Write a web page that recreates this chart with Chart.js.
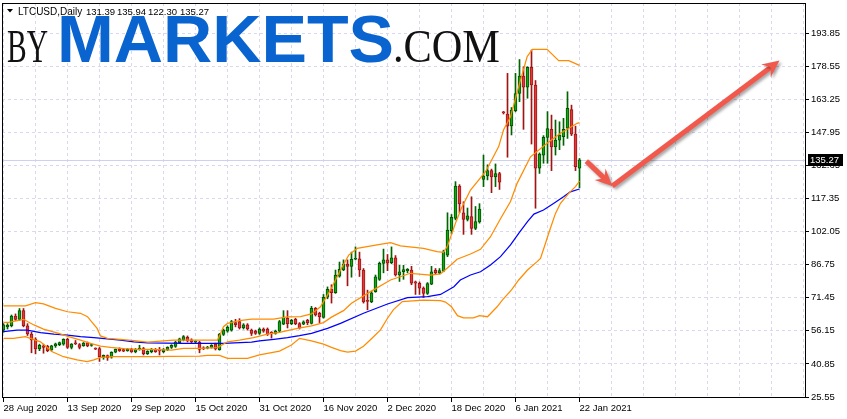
<!DOCTYPE html>
<html><head><meta charset="utf-8">
<script src="https://cdn.jsdelivr.net/npm/chart.js@4/dist/chart.umd.min.js"></script>
<style>html,body{margin:0;padding:0;background:#fff;overflow:hidden}</style>
</head><body>
<canvas id="c" width="847" height="419"></canvas>
<script>
// ---------- DATA ----------
const symbolName = 'LTCUSD,Daily';
const xTickLabels = ['28 Aug 2020','13 Sep 2020','29 Sep 2020','15 Oct 2020','31 Oct 2020','16 Nov 2020','2 Dec 2020','18 Dec 2020','6 Jan 2021','22 Jan 2021'];
const yTicks = [25.55,40.85,56.15,71.45,86.75,102.05,117.35,132.65,147.95,163.25,178.55,193.85];
const opens  = [56.5,58,58.5,63,61.5,65.5,58.5,54.7,52.3,47.8,49.2,49,47.3,49.2,49.8,50,52.2,48.5,50.6,49.8,49.3,50.6,49.4,47.9,48,44,44.7,44,46.3,47.6,47.5,47,47.6,46.4,47.5,48,45.6,46.5,47.6,47.2,46.5,47.5,48.5,49,50.7,52,53.2,52,50.9,50.8,48.3,48.2,48.5,50,47.5,54.5,56,56.5,60,60.5,57.5,59,56.5,56,55,57,57,55.2,55,56,59.2,62,59.5,61.5,59.5,59.3,61,59.6,66.6,64.3,62.4,71.7,75.4,73.8,81.5,84.3,87,86,89.3,89.5,84.3,70.3,69.6,74.3,80,87.4,89,87.7,90,82,83.5,84,84.3,78.8,78.2,76,73.5,77.8,84.2,83,83.8,91.2,102.5,108.2,123.2,110.8,107.7,109,103.6,106.6,126.2,127.8,130.3,127.4,128.9,157.1,156.5,151,158,166,174,168.9,178.1,169.9,131.4,137.5,145.7,149.4,141.3,144.4,146,149.9,158.6,147.2,131.39];
const highs  = [59.5,59.5,63.5,64,66.5,66.5,59.5,55.5,53,50,50,49.5,49.5,50.5,51,52.5,52.8,50.3,51.7,50.3,50.8,51,50,48.3,48.5,45,45,46.5,47.8,48.3,48,48,48.1,48,49.5,48.5,47,48,48,48.5,48,48.8,49.8,51.3,52.8,54,53.8,52.5,51.6,51.3,48.8,49,49.8,50.5,55,57,58.5,61,61.5,61.8,59.5,59.5,57,56.5,57.5,57.5,57.5,55.8,56.5,61,65.5,65.5,61.5,62,60,60.8,61.5,67.5,67,64.8,73,76.5,77.5,84.3,88,89,89,92.6,95,92.6,85,75,74.5,82,88,94,91.5,95,91,86.5,86.5,85,86,79.2,78.8,76.5,78.5,86,85,85,93.5,110.8,110,125.2,123.8,115.9,113,118.2,113.7,115,137.5,133,131,133.4,129.5,157.7,175.3,159.5,175.3,181.7,178.4,178.4,186.1,172,138.5,146.5,157.6,156,153.7,152.9,154.5,166.8,160.6,150.9,135.94];
const lows   = [55.5,57,58,61,61,58,54,46,45.5,47,45.8,46.5,46.8,48.5,49.3,49.5,48,47.8,49.8,47.8,49,48.8,49,47.5,42,43,42.5,43.5,46,46.6,46.5,46.7,46.2,46,47.2,45,45.2,46,46.2,45,46,47,48,48.5,50.3,51.5,51,50.5,50.5,46,47.5,47.8,48.2,47.3,47.2,54,55.5,56,58,57,57,56.5,54,54.5,54.5,55.5,54,52.8,54.6,55.5,59,57.5,59,59,57,59,59,59.3,63,60,62,71,69,73.5,81,84,77,81,89,81.3,69,65.9,69.2,74,79.5,83,84,87.2,81.5,79,80,83,77.5,73,73,71.6,73,77.5,82.5,82.5,83.5,90.5,101,107.5,110.8,100.8,107,100.8,103,106,122.9,126,120.1,122.9,121.6,156.5,136.5,146.8,157.5,162.2,149.4,163.8,142.6,112.9,129,133.7,133.7,130.3,137.5,140,142,145.2,146.5,130.3,122.30];
const closes = [59,58.8,63,61.5,65.5,58.5,54.7,52,47.8,49.5,48.5,47,49.2,50.2,50.7,52.2,48.5,50,50.2,48.5,50.5,49.2,49.8,47.7,44.2,44.8,43.8,46.2,47.6,47,46.8,47.6,46.4,47.5,48.1,45.6,46.7,47.7,46.5,46.9,47.5,48.5,49.5,51,52.5,53.5,51.5,51,51.2,47.6,47.8,48.7,49.5,47.8,54.5,56.5,57.8,60.5,59,57.5,59,57,55,55,57,56,54.5,55,56,60.5,62.5,59.5,61,59.5,57.5,60.3,60,66.6,63.5,62.7,71.7,75.4,73.8,82,84.6,87.1,86,89.3,89.6,84.3,69.6,69.8,73.8,81.2,87.4,89,87.5,90,82,83.5,84.5,84.6,78.2,78.2,75.9,73.5,78,83.5,83,84,92.7,102.8,108.7,123.2,114.9,107.7,109.4,103.6,106.7,112.5,127.8,130.3,127.4,128.9,125,157,150.9,158.3,166,174,168.9,178.1,169.9,131.4,138,145.7,149.8,141.3,144.4,146.7,149.4,159.1,147.2,132.1,135.27];
// indicator lines: [bar index, value] pairs
const bbUpperPts = [[0,67.7],[5.5,67.7],[8,69.2],[10,68.6],[13,66.6],[16,65],[19.25,64.3],[21,62.7],[22,60.4],[23.4,57.3],[24.25,53.8],[26,52.7],[29.25,52.2],[32.6,51.6],[36,50.9],[42.5,51.9],[53.5,51.9],[54.3,55],[55,58.1],[56,59.6],[59,60.9],[62,61.6],[67.5,61.6],[71,62.6],[74.25,62.7],[77,64],[79.25,67.3],[81.75,75.1],[84.25,84.3],[86.3,91.2],[88.4,94.3],[93.4,95.9],[96.75,97],[99.25,95.5],[105,94.3],[108.4,92.8],[110,92.5],[111,95.4],[111.75,99.4],[113,106],[114.5,113],[116.75,121.3],[120.5,129.8],[123.8,141.4],[125,149.1],[126.75,155.2],[129.25,172.2],[130.9,183],[132.2,186.4],[135.9,186.4],[138.8,181.2],[141.3,181.2],[144,179]];
const bbMiddlePts = [[0,60.1],[1.3,60.1],[5,61.5],[7.6,58.9],[10,57],[13.8,55],[16.3,53.5],[19.25,51.9],[21.75,50.4],[24.25,49.1],[26.75,48.5],[30,47.9],[33.4,47.6],[36.75,47.6],[42,47.3],[45,48.1],[49,48.1],[53.5,48.4],[56,51.1],[59,51.9],[62.5,53],[66,54.6],[69,55.5],[73.5,57.3],[77,58.5],[80,60],[82,62.5],[85,65.5],[87,68.9],[91.75,74.3],[96.75,79.7],[101.75,82.8],[106.75,82],[109.25,82.5],[111.75,86.5],[113.4,89.3],[116.75,91.7],[119.25,93.9],[121.75,99.7],[124.25,108],[126.75,116],[128.4,124.4],[131.75,136.7],[135.9,143],[139.25,147.6],[143.4,152.2],[144,152.5]];
const bbLowerPts = [[0,52.7],[2.5,52.7],[5.5,53.5],[9.25,51.1],[12.2,46.5],[15,44.2],[18.4,42.7],[20.9,41.9],[22.6,42.7],[24.25,43.9],[27.6,44.2],[36.75,44.2],[42,44.4],[49,44.5],[51,44.8],[54,44.8],[56,43.4],[61,43.4],[64,45],[69,46.8],[72,49.6],[74,52.7],[77,51.5],[80,50],[82,48.5],[84.25,47],[86,46.3],[88,46.8],[90,49],[92,52.5],[94.25,56.6],[96,62],[97.5,66],[99.7,69.7],[105,70.4],[109.25,70.1],[110.5,69.5],[112,67.3],[113.5,63.2],[115,62.2],[117.5,62.2],[119,63.2],[121,62.7],[123.4,67.3],[124.7,70.4],[127,75.1],[128.8,79.7],[131,84.3],[133.4,88.2],[134.25,89.7],[135.5,96.7],[136.3,101.3],[138,110.5],[139.25,115.2],[141.3,119.8],[143,122.9],[144,125.5]];
const maPts = [[0,55.8],[3.4,56.5],[5.9,56.5],[9.25,55.3],[12.6,54.6],[16,54.2],[19.25,53.5],[22.6,53],[26,52.4],[29.25,51.9],[32.6,51.1],[36,50.6],[45,50.4],[55,50.4],[62,50.9],[64,51.5],[67.6,52.2],[71,53],[74,53.9],[77,55],[81,57.3],[84.25,59.6],[90,64.3],[96,68.6],[101,71.5],[106,72],[109.25,73],[112.6,76.6],[114.2,79.7],[116.75,82],[119.25,83.5],[121.75,86.6],[124.25,90.5],[126.75,95.9],[128.8,101.3],[131,106.7],[132.6,110.2],[135,112.1],[137.6,115.2],[140,118.2],[141.7,120.5],[144,121.8]];
// forecast arrow drawn on the chart: [bar index, price] points
const arrowPts = [[145.7,134.7],[152.2,123.2],[194,181.2]];

// ---------- LAYOUT / STYLE ----------
const LABEL_EVERY = 16, GRID_EVERY = 8, TOTAL_SLOTS = 201;
const FONT = '"Liberation Sans", Arial, sans-serif';
const GRID = '#d8d8f0';
const up = (i) => closes[i] >= opens[i];
const wickColors = opens.map((o,i)=> up(i) ? '#006400' : '#a01414');
const bodyFill   = opens.map((o,i)=> up(i) ? '#12a812' : '#e03a3a');
const bodyBorder = opens.map((o,i)=> up(i) ? '#005000' : '#a01414');
const toXY = pts => pts.map(p => ({x:p[0], y:p[1]}));

const xTickVals = [];
for (let v = 0; v < TOTAL_SLOTS; v += GRID_EVERY) xTickVals.push(v);

function lineDS(pts, color){
  return {type:'line', data: toXY(pts), borderColor: color, borderWidth: 1.25, pointRadius: 0, fill: false, tension: 0, order: 0};
}

function fitText(ctx, text, x, baseline, font, color, targetW){
  ctx.save(); ctx.font = font; const w = ctx.measureText(text).width;
  ctx.translate(x, baseline); ctx.scale(targetW / w, 1); ctx.fillStyle = color; ctx.textBaseline = 'alphabetic'; ctx.textAlign = 'left';
  ctx.fillText(text, 0, 0); ctx.restore();
}

function drawArrowSeg(ctx, x0, y0, x1, y1){
  const a = Math.atan2(y1 - y0, x1 - x0), c = Math.cos(a), s = Math.sin(a);
  const L = 17, W = 8, N = 11;
  ctx.beginPath(); ctx.moveTo(x0, y0); ctx.lineTo(x1 - c*N, y1 - s*N); ctx.stroke();
  ctx.beginPath(); ctx.moveTo(x1, y1);
  ctx.lineTo(x1 - c*L - s*W, y1 - s*L + c*W);
  ctx.lineTo(x1 - c*N, y1 - s*N);
  ctx.lineTo(x1 - c*L + s*W, y1 - s*L - c*W);
  ctx.closePath(); ctx.fill();
}

const mt4Plugin = {
  id: 'mt4',
  beforeDatasetsDraw(chart){
    const {ctx, chartArea: a, scales: {x, y}} = chart;
    // watermark logo
    fitText(ctx, 'BY', 7, 62, '47px "Liberation Serif", serif', '#111', 41);
    fitText(ctx, 'MARKETS', 57, 62, 'bold 67px ' + FONT, '#0a64d0', 337);
    fitText(ctx, '.COM', 393, 62, '47px "Liberation Serif", serif', '#111', 107);
    // bid line at the last close
    const py = Math.round(y.getPixelForValue(closes[closes.length-1])) + 0.5;
    ctx.save(); ctx.strokeStyle = '#cfcff0'; ctx.lineWidth = 1;
    ctx.beginPath(); ctx.moveTo(a.left, py); ctx.lineTo(a.right, py); ctx.stroke(); ctx.restore();
  },
  afterDatasetsDraw(chart){
    const {ctx, scales: {x, y}} = chart;
    const p = arrowPts.map(q => [x.getPixelForValue(q[0]), y.getPixelForValue(q[1])]);
    ctx.save();
    ctx.strokeStyle = '#f2594d'; ctx.fillStyle = '#f2594d'; ctx.lineWidth = 5; ctx.lineCap = 'butt';
    ctx.shadowColor = 'rgba(0,0,0,0.35)'; ctx.shadowBlur = 3; ctx.shadowOffsetX = 2; ctx.shadowOffsetY = 2;
    for (let i = 0; i < p.length - 1; i++) drawArrowSeg(ctx, p[i][0], p[i][1], p[i+1][0], p[i+1][1]);
    ctx.restore();
  },
  afterDraw(chart){
    const {ctx, chartArea: a, scales: {y}} = chart;
    ctx.save();
    // plot frame
    ctx.strokeStyle = '#000'; ctx.lineWidth = 1;
    ctx.strokeRect(a.left + 0.5, a.top + 0.5, a.right - a.left - 1, a.bottom - a.top - 1);
    // header
    ctx.fillStyle = '#000';
    ctx.beginPath(); ctx.moveTo(7, 9); ctx.lineTo(13, 9); ctx.lineTo(10, 12.5); ctx.closePath(); ctx.fill();
    ctx.textBaseline = 'alphabetic'; ctx.textAlign = 'left';
    const n = closes.length - 1;
    ctx.font = '10px ' + FONT;
    ctx.fillText(symbolName, 18, 14.5);
    ctx.font = '9.5px ' + FONT;
    const hv = [opens[n], highs[n], lows[n], closes[n]];
    const hx = [86, 117, 148, 180];
    hv.forEach((v, k) => ctx.fillText(v.toFixed(2), hx[k], 14.5));
    // last price label on the price axis
    const py = Math.round(y.getPixelForValue(closes[n]));
    ctx.fillStyle = '#000'; ctx.fillRect(808, py - 6, 35, 12);
    ctx.fillStyle = '#fff'; ctx.font = '9.5px ' + FONT; ctx.textBaseline = 'middle';
    ctx.fillText(closes[n].toFixed(2), 810, py);
    ctx.restore();
  }
};

new Chart(document.getElementById('c'), {
  type: 'bar',
  data: {
    datasets: [
      lineDS(bbUpperPts, '#ff8c00'),
      lineDS(bbMiddlePts, '#ff8c00'),
      lineDS(bbLowerPts, '#ff8c00'),
      lineDS(maPts, '#0000ff'),
      { type:'bar', data: lows.map((l,i)=>({x:i, y:[l, highs[i]]})), backgroundColor: wickColors, borderWidth: 0, barThickness: 1, grouped: false, order: 2 },
      { type:'bar', data: opens.map((o,i)=>({x:i, y:[o, closes[i]]})), backgroundColor: bodyFill, borderColor: bodyBorder, borderWidth: 1, borderSkipped: false, barThickness: 3, minBarLength: 1, grouped: false, order: 1 }
    ]
  },
  options: {
    responsive: false, devicePixelRatio: 1, animation: false, events: [],
    layout: { padding: { left: 2, top: 3, right: 0, bottom: 0 } },
    plugins: { legend: { display: false }, tooltip: { enabled: false } },
    scales: {
      x: {
        type: 'linear', offset: false, min: -0.375, max: TOTAL_SLOTS - 0.375,
        afterBuildTicks: ax => { ax.ticks = xTickVals.map(v => ({value: v})); },
        afterFit: ax => { ax.height = 21; ax.paddingLeft = 0; ax.paddingRight = 0; },
        grid: { offset: false, color: GRID, lineWidth: 1, drawTicks: true, tickLength: 4,
          tickColor: c => (c.tick && c.tick.value % LABEL_EVERY === 0 && c.tick.value / LABEL_EVERY < xTickLabels.length) ? '#000' : 'rgba(0,0,0,0)' },
        border: { display: false, dash: [3,3] },
        ticks: { autoSkip: false, maxRotation: 0, minRotation: 0, align: 'start', padding: 1, color: '#000', font: { family: FONT, size: 9.5 },
          callback: v => (v % LABEL_EVERY === 0 && v / LABEL_EVERY < xTickLabels.length) ? xTickLabels[v / LABEL_EVERY] : '' }
      },
      y: {
        type: 'linear', position: 'right', min: 25.09, max: 207.86,
        afterBuildTicks: ax => { ax.ticks = yTicks.map(v => ({value: v})); },
        afterFit: ax => { ax.width = 41; ax.paddingTop = 0; ax.paddingBottom = 0; },
        grid: { color: GRID, lineWidth: 1, drawTicks: true, tickLength: 3, tickColor: '#000' },
        border: { display: false, dash: [3,3] },
        ticks: { padding: 2, color: '#000', font: { family: FONT, size: 9.5 }, callback: v => Number(v).toFixed(2) }
      }
    }
  },
  plugins: [mt4Plugin]
});
</script>
</body></html>
